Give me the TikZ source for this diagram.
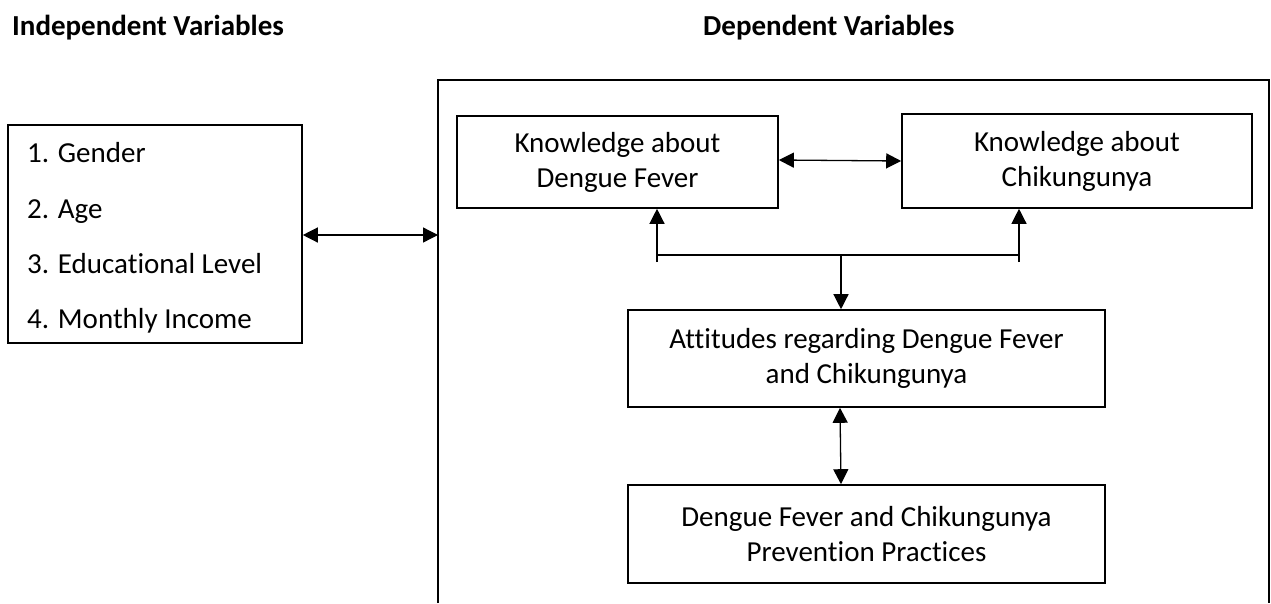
\documentclass[tikz,border=0pt]{standalone}
\usepackage{fontspec}
\setmainfont{Carlito}[Ligatures={NoCommon}]
\usetikzlibrary{arrows.meta}
\tikzset{
  box/.style={draw=black, line width=1.6pt, inner sep=0pt, align=center,
    font=\fontsize{29}{35}\selectfont},
  conn/.style={line width=1.3pt, {Triangle[length=15pt,width=15pt]}-{Triangle[length=15pt,width=15pt]}},
  oneway/.style={line width=1.3pt, -{Triangle[length=15pt,width=15pt]}},
  plain/.style={line width=1.3pt},
  title/.style={font=\fontsize{29}{32}\selectfont\bfseries, inner sep=0pt, anchor=west},
}
\begin{document}
\begin{tikzpicture}[x=1pt,y=-1pt]
\useasboundingbox (0,0) rectangle (1271,603);
\node[title] (t1) at (12,28) {Independent Variables};
\node[title] (t2) at (703,28) {Dependent Variables};
% outer dependent frame (cut at bottom)
\draw[line width=2.2pt] (438,603) -- (438,80) -- (1269,80) -- (1269,603);
\coordinate (outerL) at (438,235);
% independent box
\node[box, minimum width=294pt, minimum height=218pt] (iv) at (155,234) {};
\node[font=\fontsize{29}{55.3}\selectfont, align=left, anchor=west, inner sep=0pt] (ivtext) at (27,238)
  {1. Gender\\2. Age\\3. Educational Level\\4. Monthly Income};
% dependent boxes
\node[box, minimum width=321pt, minimum height=92pt] (kdf) at (617.5,162) {Knowledge about\\Dengue Fever};
\node[box, minimum width=350pt, minimum height=94pt] (kch) at (1077,161) {Knowledge about\\Chikungunya};
\node[box, minimum width=477pt, minimum height=97pt] (att) at (866.5,358.5) {Attitudes regarding Dengue Fever\\and Chikungunya};
\node[box, minimum width=477pt, minimum height=98pt] (prev) at (866.5,534) {Dengue Fever and Chikungunya\\Prevention Practices};
% connectors
\draw[conn] (iv.east |- 0,235) -- (outerL);
\draw[conn] (kdf.east |- 0,160) -- (kch.west |- 0,161);
\coordinate (bl) at (657,262);
\coordinate (br) at (1019,262);
\coordinate (jl) at (657,255);
\coordinate (jr) at (1019,255);
\coordinate (jm) at (841,255);
\draw[plain] (jl) -- (jr);
\draw[oneway] (bl) -- (kdf.south -| bl);
\draw[oneway] (br) -- (kch.south -| br);
\draw[oneway] (jm) -- (att.north -| jm);
\draw[conn] (att.south -| 840,0) -- (prev.north -| 841,0);
\end{tikzpicture}
\end{document}
